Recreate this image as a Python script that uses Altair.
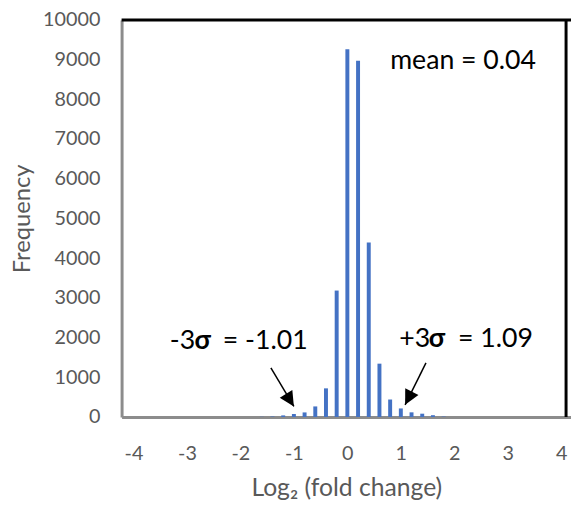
import altair as alt
import pandas as pd

bin_centers = [-1.6, -1.4, -1.2, -1.0, -0.8, -0.6, -0.4, -0.2, 0.0, 0.2, 0.4, 0.6, 0.8, 1.0, 1.2, 1.4, 1.6, 1.8]
frequencies = [5, 12, 40, 75, 115, 266, 721, 3184, 9261, 8970, 4395, 1343, 440, 215, 117, 83, 45, 10]

x_ticks = [-4, -3, -2, -1, 0, 1, 2, 3, 4]
y_ticks = [0, 1000, 2000, 3000, 4000, 5000, 6000, 7000, 8000, 9000, 10000]

ann_text = ["mean = 0.04", "-3", "σ", "= -1.01", "+3", "σ", "= 1.09"]
ann_x = [0.80, -3.32, -2.86, -2.33, 0.97, 1.52, 2.07]
ann_y = [8960, 1915, 1915, 1915, 1965, 1965, 1965]
ann_bold = [False, False, True, False, False, True, False]

arrow_x = [-1.43, 1.47]
arrow_y = [1236, 1361]
arrow_x2 = [-1.0, 1.08]
arrow_y2 = [266, 306]
arrow_angle = [148, 207]

X_MIN, X_MAX = -4.13, 4.09
Y_MAX = 10000

FONT = "Lato"
GREY = "#595959"

bars_df = pd.DataFrame({"x": bin_centers, "freq": frequencies})
ann_df = pd.DataFrame({"t": ann_text, "x": ann_x, "y": ann_y, "b": ann_bold})
arr_df = pd.DataFrame({"x": arrow_x, "y": arrow_y, "x2": arrow_x2, "y2": arrow_y2, "a": arrow_angle})

xscale = alt.Scale(domain=[X_MIN, X_MAX], nice=False, zero=False)
yscale = alt.Scale(domain=[0, Y_MAX], nice=False)

W, H = 455, 402

bars = alt.Chart(bars_df).mark_bar(color="#4472C4", size=4).encode(
    x=alt.X("x:Q", scale=xscale,
            axis=alt.Axis(values=x_ticks, title="Log₂ (fold change)", grid=False, ticks=False,
                          labelPadding=27, titlePadding=12, domainColor="#8c8c8c", domainWidth=3,
                          labelFlush=False, labelExpr="'' + datum.value")),
    y=alt.Y("freq:Q", scale=yscale,
            axis=alt.Axis(values=y_ticks, title="Frequency", grid=False, ticks=False,
                          labelPadding=22, titlePadding=8, titleFontSize=24,
                          domainColor="#8c8c8c", domainWidth=3,
                          labelFlush=False, labelExpr="'' + datum.value")),
)

top_rule = alt.Chart(pd.DataFrame({"k": [0]})).mark_rule(color="black", strokeWidth=3).encode(
    y=alt.datum(Y_MAX, scale=yscale)
)
right_rule = alt.Chart(pd.DataFrame({"k": [0]})).mark_rule(color="black", strokeWidth=3).encode(
    x=alt.datum(X_MAX, scale=xscale)
)

text_base = alt.Chart(ann_df).encode(
    x=alt.X("x:Q", scale=xscale),
    y=alt.Y("y:Q", scale=yscale),
    text="t:N",
)
texts_normal = text_base.mark_text(
    align="left", baseline="middle", fontSize=27, font=FONT, color="black"
).transform_filter("!datum.b")
texts_bold = text_base.mark_text(
    align="left", baseline="middle", fontSize=27, font=FONT, color="black", fontWeight="bold"
).transform_filter("datum.b")

lines = alt.Chart(arr_df).mark_rule(color="black", strokeWidth=1.5).encode(
    x=alt.X("x:Q", scale=xscale),
    y=alt.Y("y:Q", scale=yscale),
    x2="x2:Q",
    y2="y2:Q",
)

heads = alt.Chart(arr_df).mark_point(
    shape="M0,0 L0.5,1 L-0.5,1 Z", filled=True, color="black", opacity=1, size=900
).encode(
    x=alt.X("x2:Q", scale=xscale),
    y=alt.Y("y2:Q", scale=yscale),
    angle=alt.Angle("a:Q", scale=None),
)

chart = alt.layer(bars, top_rule, right_rule, lines, heads, texts_normal, texts_bold).properties(
    width=W, height=H,
    autosize=alt.AutoSizeParams(type="none"),
    padding={"left": 115, "top": 9, "right": 0, "bottom": 83},
).configure_view(
    stroke=None
).configure_axis(
    labelFont=FONT, titleFont=FONT, labelFontSize=20, titleFontSize=25,
    labelColor=GREY, titleColor=GREY, titleFontWeight="normal"
)

chart.save("out.html", embed_options={"renderer": "svg", "actions": False})
